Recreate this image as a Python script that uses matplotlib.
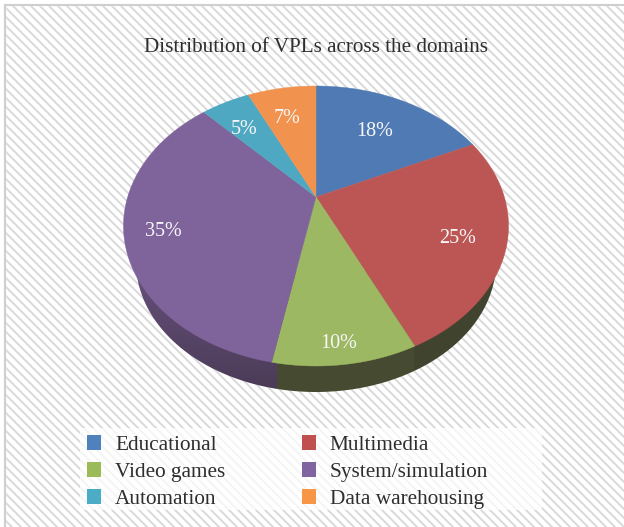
import numpy as np
import matplotlib
matplotlib.use("Agg")
import matplotlib.pyplot as plt
from matplotlib.patches import Patch, Polygon, Rectangle
from matplotlib.collections import LineCollection
from matplotlib.colors import LinearSegmentedColormap

title = "Distribution of VPLs across the domains"
categories = ["Educational", "Multimedia", "Video games", "System/simulation", "Automation", "Data warehousing"]
shares = [18, 25, 10, 35, 5, 7]
top_colors = ["#507AB4", "#BC5654", "#9CB863", "#7F639B", "#4FA8C2", "#F2924F"]
legend_colors = ["#4F81BD", "#C0504D", "#9BBB59", "#8064A2", "#4BACC6", "#F79646"]
label_fracs = [0.72, 0.76, 0.85, 0.78, 0.76, 0.76]

plt.rcParams["font.family"] = ["Liberation Serif", "DejaVu Serif"]
W, H = 624, 527
fig = plt.figure(figsize=(W / 100, H / 100), dpi=100)
ax = fig.add_axes([0, 0, 1, 1])
ax.set_xlim(0, W)
ax.set_ylim(H, 0)
ax.axis("off")

# page frame and diagonal hatch
segs = [[(x, 5), (x + 600, 605)] for x in np.arange(-600, W, 9.0)]
hatch = LineCollection(segs, colors="#D9D9D9", linewidths=1.4, zorder=1)
ax.add_collection(hatch)
ax.fill([0, 5, 5, W, W, 0], [0, 0, 5, 5, 0, 0], color="white", zorder=1.5)
ax.fill([0, 5, 5, 0], [0, 0, H, H], color="white", zorder=1.5)
ax.plot([5, 5], [H, 5], color="#CFCFCF", lw=1.5, zorder=1.6)
ax.plot([5, W], [5, 5], color="#CFCFCF", lw=1.5, zorder=1.6)
ax.add_patch(Rectangle((80, 428), 462, 82, fc="white", ec="none", alpha=0.72, zorder=1.7))

# pie geometry: elliptical rim seen in perspective from an off-centre apex
cx, cy, rx, ry = 316.0, 226.0, 192.5, 140.0
ax0, ay0 = 316.0, 197.0
k = 0.71


def rim(theta):
    dx, dy = np.sin(theta), -np.cos(theta) * k
    a = (dx / rx) ** 2 + (dy / ry) ** 2
    b = 2 * (dy * (ay0 - cy)) / ry ** 2
    c = ((ay0 - cy) / ry) ** 2 - 1
    t = (-b + np.sqrt(b * b - 4 * a * c)) / (2 * a)
    return ax0 + t * dx, ay0 + t * dy


# side wall
wx, wy, wrx, wry = 316.0, 262.0, 180.0, 130.0
phi = np.linspace(0, 2 * np.pi, 400)
wall_x = wx + wrx * np.cos(phi)
wall_y = wy + wry * np.sin(phi)
wall = Polygon(np.c_[wall_x, wall_y], closed=True, transform=ax.transData, fc="none", ec="none")
ax.add_patch(wall)
cm = LinearSegmentedColormap.from_list("w", ["#65507A", "#4A3A55"])
grad = np.linspace(0, 1, 128).reshape(-1, 1)
im1 = ax.imshow(grad, extent=(100, 277, 395, 270), cmap=cm, aspect="auto", zorder=2)
im1.set_clip_path(wall)
im2 = ax.imshow([[0, 0]], extent=(277, 414, 395, 270), cmap=LinearSegmentedColormap.from_list("g", ["#464A30", "#464A30"]), aspect="auto", zorder=2)
im2.set_clip_path(wall)
im3 = ax.imshow([[0, 0]], extent=(414, 520, 395, 270), cmap=LinearSegmentedColormap.from_list("r", ["#40432D", "#40432D"]), aspect="auto", zorder=2)
im3.set_clip_path(wall)
ax.set_xlim(0, W)
ax.set_ylim(H, 0)

# top faces
cum = np.cumsum([0] + shares) / sum(shares) * 2 * np.pi
for i, s in enumerate(shares):
    th = np.linspace(cum[i], cum[i + 1], 120)
    px, py = rim(th)
    ax.fill(np.r_[ax0, px], np.r_[ay0, py], color=top_colors[i], lw=0.3, zorder=3)
    mid = (cum[i] + cum[i + 1]) / 2
    mx, my = rim(mid)
    f = label_fracs[i]
    ax.text(ax0 + f * (mx - ax0) - 3, ay0 + f * (my - ay0) + 4, f"{s}%", color="#F7F7F7", fontsize=14.5,
            ha="center", va="center", zorder=4)

ax.text(316, 47, title, color="#2E2E2E", fontsize=15.2, ha="center", va="center", zorder=4)

handles = [Patch(facecolor=c, edgecolor="none") for c in legend_colors]
order = [0, 2, 4, 1, 3, 5]
leg = ax.legend([handles[i] for i in order], [categories[i] for i in order], ncols=2,
                loc="upper left", bbox_to_anchor=(80 / W, 1 - 428 / H), frameon=False, fontsize=15.3,
                labelcolor="#2E2E2E", handlelength=0.66, handleheight=0.7, handletextpad=0.66,
                columnspacing=3.6, labelspacing=0.34, borderpad=0.33, borderaxespad=0)
leg.set_zorder(5)

fig.savefig("out.png", dpi=100)
